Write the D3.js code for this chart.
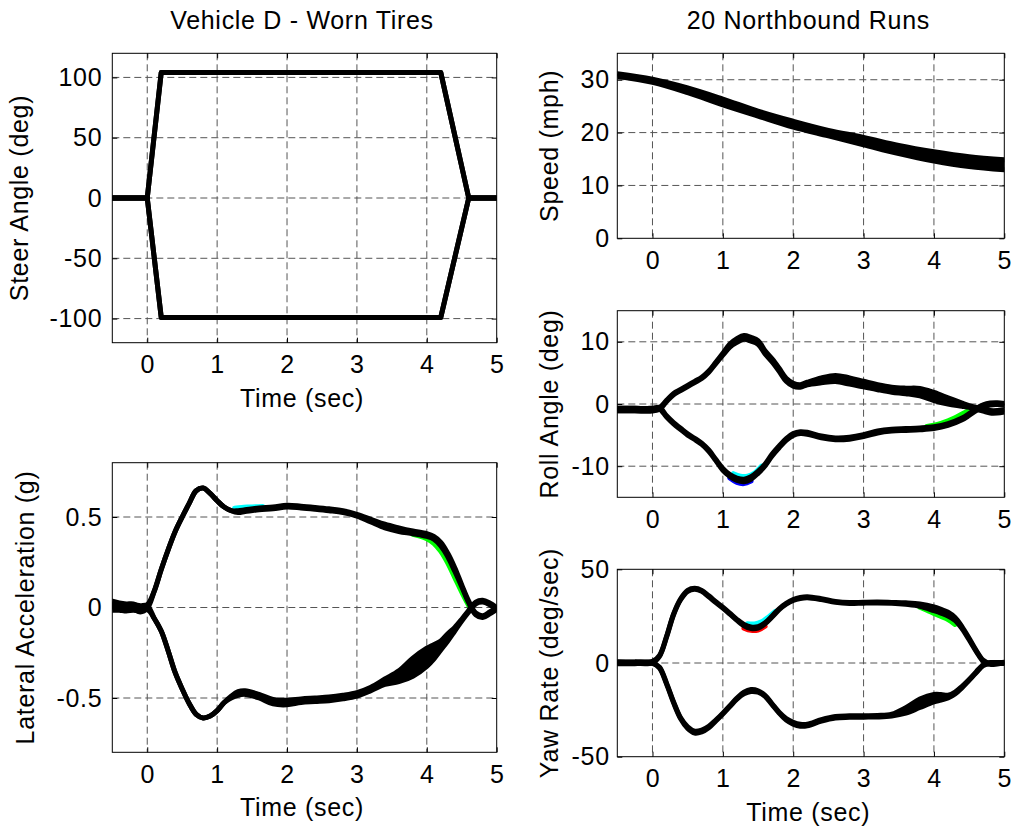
<!DOCTYPE html>
<html><head><meta charset="utf-8">
<script src="https://cdn.jsdelivr.net/npm/d3@7"></script>
<style>body{margin:0;background:#fff}svg{display:block}</style>
</head><body><svg id="c" width="1018" height="831"></svg>
<script>
// ---------------- DATA ----------------
const xTicks = [0, 1, 2, 3, 4, 5];

// Steer angle (deg)
const steerT = [-0.5, 0, 0.2, 4.2, 4.6, 5];
const steerLeft = [0, 0, 104, 104, 0, 0];
const steerRight = [0, 0, -99, -99, 0, 0];
const steerTicks = [-100, -50, 0, 50, 100];

// Speed (mph): centre of the bundle of 20 runs and its spread
const speedT = [-0.5, 0, 0.5, 1, 1.5, 2, 2.5, 3, 3.5, 4, 4.5, 5];
const speedMid = [30.9, 29.8, 28.0, 25.8, 23.6, 21.6, 19.9, 18.4, 16.8, 15.5, 14.5, 13.9];
const speedSpread = [0.45, 0.6, 0.9, 1.1, 0.95, 1.1, 1.05, 1.4, 1.55, 1.75, 1.85, 1.9];
const speedTicks = [0, 10, 20, 30];

// Lateral acceleration (g)
const latT = [-0.5,-0.4,-0.3,-0.2,-0.1,0,0.1,0.2,0.3,0.4,0.5,0.6,0.7,0.8,0.9,1.0,1.1,1.2,1.3,1.4,1.6,1.8,2.0,2.2,2.4,2.6,2.8,3.0,3.2,3.4,3.6,3.8,4.0,4.1,4.2,4.3,4.4,4.5,4.6,4.7,4.8,4.9,5.0];
const latLeft = [0.02,0.01,0.005,0.005,-0.01,0.005,0.09,0.21,0.32,0.42,0.50,0.575,0.645,0.66,0.63,0.59,0.555,0.535,0.53,0.535,0.545,0.55,0.56,0.555,0.548,0.54,0.53,0.51,0.48,0.45,0.43,0.415,0.40,0.385,0.35,0.29,0.21,0.12,0.03,-0.035,-0.05,-0.03,-0.005];
const latLeftSpread = [0.03,0.03,0.03,0.03,0.03,0.02,0,0,0,0,0,0,0,0,0,0,0,0,0.01,0.01,0.01,0.01,0.01,0.01,0.01,0.01,0.01,0.01,0.015,0.02,0.02,0.015,0.015,0.015,0.02,0.02,0.02,0.01,0.01,0.01,0.01,0.01,0.01];
const latRight = [0.0,0.0,-0.005,0.0,-0.005,0.0,-0.06,-0.13,-0.24,-0.36,-0.45,-0.53,-0.59,-0.61,-0.60,-0.57,-0.525,-0.495,-0.475,-0.47,-0.49,-0.52,-0.525,-0.515,-0.51,-0.505,-0.495,-0.48,-0.45,-0.41,-0.38,-0.33,-0.275,-0.245,-0.21,-0.165,-0.12,-0.07,-0.02,0.025,0.035,0.02,-0.005];
const latRightSpread = [0.03,0.03,0.03,0.03,0.03,0.02,0,0,0,0,0,0,0,0,0,0,0,0.01,0.02,0.02,0.02,0.025,0.025,0.02,0.02,0.02,0.02,0.02,0.02,0.03,0.06,0.10,0.10,0.08,0.05,0.04,0.02,0.01,0.01,0.01,0.01,0.01,0.01];
const latTicks = [-0.5, 0, 0.5];

// Roll angle (deg)
const rollT = [-0.5,-0.25,0,0.1,0.2,0.3,0.4,0.5,0.6,0.7,0.8,0.9,1.0,1.1,1.2,1.3,1.4,1.5,1.6,1.7,1.8,1.9,2.0,2.1,2.2,2.4,2.6,2.8,3.0,3.2,3.4,3.6,3.8,4.0,4.2,4.4,4.5,4.6,4.7,4.8,4.9,5.0];
const rollLeft = [-0.9,-0.9,-0.9,-0.7,0.5,1.6,2.25,2.9,3.55,4.2,5.2,6.6,8.0,9.4,10.2,10.7,10.4,9.9,8.3,7.0,5.5,3.9,3.1,2.9,3.3,3.8,4.1,3.7,3.2,2.7,2.3,2.1,1.9,1.2,0.5,-0.1,-0.4,-0.7,-1.0,-1.25,-1.25,-1.1];
const rollLeftSpread = [0.4,0.4,0.4,0.3,0.2,0.2,0.2,0.2,0.2,0.2,0.2,0.2,0.3,0.5,0.6,0.6,0.6,0.6,0.5,0.5,0.5,0.5,0.5,0.4,0.4,0.8,1.0,1.0,0.9,0.8,0.8,0.9,1.2,1.3,1.0,0.5,0.3,0.3,0.3,0.4,0.4,0.4];
const rollRight = [-0.9,-0.9,-0.9,-0.7,-2.0,-3.1,-4.0,-4.9,-5.6,-6.4,-7.5,-9.0,-10.5,-11.5,-12.1,-12.3,-11.9,-11.0,-9.8,-8.2,-6.9,-5.7,-4.9,-4.6,-4.7,-5.3,-5.6,-5.5,-5.1,-4.5,-4.2,-4.1,-4.0,-3.8,-3.3,-2.4,-1.7,-0.9,-0.3,0.0,0.05,-0.05];
const rollRightSpread = [0.4,0.4,0.4,0.3,0.2,0.2,0.2,0.2,0.2,0.2,0.2,0.2,0.3,0.3,0.4,0.4,0.4,0.3,0.3,0.3,0.3,0.3,0.3,0.3,0.3,0.3,0.3,0.3,0.3,0.3,0.3,0.3,0.3,0.3,0.3,0.3,0.3,0.3,0.3,0.3,0.3,0.3];
const rollTicks = [-10, 0, 10];

// Yaw rate (deg/sec)
const yawT = [-0.5,-0.25,0,0.1,0.2,0.3,0.4,0.5,0.6,0.7,0.8,0.9,1.0,1.1,1.2,1.3,1.4,1.5,1.6,1.7,1.8,1.9,2.0,2.1,2.2,2.4,2.6,2.8,3.0,3.2,3.4,3.6,3.8,4.0,4.1,4.2,4.3,4.4,4.5,4.6,4.7,4.8,4.9,5.0];
const yawLeft = [0.3,0.2,0.5,3.8,14,26,34,38.5,39.6,38.5,35.6,32.5,29.5,26.3,23,20.2,18.8,19.0,21.2,24.8,28.7,31.6,33.6,34.7,35.1,34.1,32.6,32.0,32.2,32.3,32.1,31.7,30.9,28.9,27.6,26.1,23.5,18.8,12.8,6.5,1.2,-0.5,-0.3,0.2];
const yawLeftSpread = [0.8,0.8,0.8,0.5,0.5,0.5,0.5,0.5,0.5,0.5,0.5,0.5,0.5,0.5,0.5,0.8,0.8,0.8,0.5,0.5,0.5,0.5,0.5,0.5,0.5,0.5,0.5,0.5,0.5,0.5,0.5,0.8,1.2,2.0,2.0,2.0,1.5,1.0,0.8,0.5,0.5,0.5,0.5,0.5];
const yawRight = [0,0,0,-2.5,-11,-21,-29.5,-34.5,-36.9,-36.3,-34.2,-30.7,-27,-23,-19,-16,-14.7,-15.2,-17.5,-22,-26.5,-30,-32.1,-33.2,-33.1,-30.6,-28.9,-28.6,-28.5,-28.4,-27.8,-25.3,-21.5,-18.8,-18.3,-17.9,-16,-12.8,-9,-5,-1.2,0,0,0];
const yawRightSpread = [0.8,0.8,0.5,0.5,0.5,0.5,0.5,0.8,1.0,1.0,0.8,0.5,0.5,0.5,0.5,0.8,1.0,0.8,0.5,0.5,0.5,0.8,1.0,1.0,0.8,0.8,0.8,0.8,0.8,0.8,1.0,3.0,4.5,4.0,3.0,1.5,1.0,0.8,0.5,0.5,0.5,0.5,0.5,0.5];
const yawTicks = [-50, 0, 50];

// a few individual coloured runs that peek out from under the black bundle
const latGreenT = [3.8,3.9,4.0,4.1,4.2,4.3,4.4,4.5,4.6];
const latGreenV = [0.405,0.395,0.38,0.355,0.31,0.245,0.165,0.085,0.01];
const latCyanT = [1.25,1.35,1.45,1.55,1.65];
const latCyanV = [0.548,0.553,0.555,0.556,0.558];
const rollCyanT = [1.15,1.25,1.35,1.45,1.55];
const rollCyanV = [-11.2,-11.6,-11.6,-11.1,-10.0];
const rollBlueT = [1.1,1.2,1.3,1.4];
const rollBlueV = [-11.9,-12.6,-12.8,-12.4];
const rollGreenT = [3.9,4.0,4.1,4.2,4.3,4.4,4.5];
const rollGreenV = [-3.6,-3.4,-3.1,-2.7,-2.2,-1.6,-1.0];
const yawCyanT = [1.35,1.45,1.55,1.65,1.75];
const yawCyanV = [21.0,20.8,22.0,24.6,27.6];
const yawRedT = [1.3,1.4,1.5,1.6];
const yawRedV = [18.6,17.4,17.6,19.6];
const yawGreenT = [3.8,3.9,4.0,4.1,4.2,4.3];
const yawGreenV = [29.8,28.2,26.4,24.8,23.2,20.6];

// ---------------- DRAWING ----------------
const svg = d3.select('#c');
const FONT = '"Liberation Sans", Arial, Helvetica, sans-serif';
const FS = 25;
const LS = '0.7px';
const LW = 5;

function panel(cfg) {
  const x = d3.scaleLinear().domain([-0.5, 5]).range([cfg.x0, cfg.x1]);
  const y = d3.scaleLinear().domain(cfg.ydom).range([cfg.y1, cfg.y0]);
  const g = svg.append('g');
  const clipId = 'clip' + cfg.id;
  svg.append('defs').append('clipPath').attr('id', clipId)
    .append('rect').attr('x', cfg.x0).attr('y', cfg.y0)
    .attr('width', cfg.x1 - cfg.x0).attr('height', cfg.y1 - cfg.y0);

  // grid
  const grid = g.append('g').attr('stroke', '#555').attr('stroke-width', 1)
    .attr('stroke-dasharray', '7,4').attr('fill', 'none');
  xTicks.filter(t => x(t) > cfg.x0 + 1 && x(t) < cfg.x1 - 1).forEach(t => {
    grid.append('line').attr('x1', x(t)).attr('x2', x(t)).attr('y1', cfg.y0).attr('y2', cfg.y1);
  });
  cfg.yticks.filter(v => y(v) > cfg.y0 + 1 && y(v) < cfg.y1 - 1).forEach(v => {
    grid.append('line').attr('x1', cfg.x0).attr('x2', cfg.x1).attr('y1', y(v)).attr('y2', y(v));
  });

  // data
  const dg = g.append('g').attr('clip-path', `url(#${clipId})`);
  const curve = cfg.linear ? d3.curveLinear : d3.curveCatmullRom.alpha(0.5);
  (cfg.colored || []).forEach(c => {
    const pts = c.t.map((t, i) => [t, c.v[i]]);
    dg.append('path').datum(pts)
      .attr('d', d3.line().x(d => x(d[0])).y(d => y(d[1])).curve(curve))
      .attr('fill', 'none').attr('stroke', c.color).attr('stroke-width', LW)
      .attr('stroke-linejoin', 'round').attr('stroke-linecap', 'round');
  });
  cfg.traces.forEach(tr => {
    const pts = tr.t.map((t, i) => ({t, hi: tr.v[i] + (tr.s ? tr.s[i] / 2 : 0), lo: tr.v[i] - (tr.s ? tr.s[i] / 2 : 0)}));
    if (tr.s) {
      dg.append('path').datum(pts)
        .attr('d', d3.area().x(d => x(d.t)).y0(d => y(d.lo)).y1(d => y(d.hi)).curve(curve))
        .attr('fill', '#000');
    }
    ['hi', 'lo'].forEach(k => {
      dg.append('path').datum(pts)
        .attr('d', d3.line().x(d => x(d.t)).y(d => y(d[k])).curve(curve))
        .attr('fill', 'none').attr('stroke', '#000').attr('stroke-width', LW)
        .attr('stroke-linejoin', 'round').attr('stroke-linecap', 'round');
    });
  });

  // axes (ticks inward on all four sides)
  const fmt = d => String(d);
  g.append('g').attr('transform', `translate(0,${cfg.y1})`)
    .call(d3.axisBottom(x).tickValues(xTicks).tickSizeInner(-5).tickSizeOuter(0).tickPadding(12.8).tickFormat(fmt));
  g.append('g').attr('transform', `translate(${cfg.x0},0)`)
    .call(d3.axisLeft(y).tickValues(cfg.yticks).tickSizeInner(-5).tickSizeOuter(0).tickPadding(cfg.gap).tickFormat(fmt));
  g.append('g').attr('transform', `translate(0,${cfg.y0})`)
    .call(d3.axisTop(x).tickValues(xTicks).tickSizeInner(-5).tickSizeOuter(0).tickFormat(''));
  g.append('g').attr('transform', `translate(${cfg.x1},0)`)
    .call(d3.axisRight(y).tickValues(cfg.yticks).tickSizeInner(-5).tickSizeOuter(0).tickFormat(''));
  g.selectAll('.domain').remove();
  g.selectAll('.tick line').attr('stroke', '#000');
  g.selectAll('.tick text').attr('font-family', FONT).attr('font-size', FS)
    .attr('letter-spacing', LS).attr('fill', '#000');

  g.append('rect').attr('x', cfg.x0).attr('y', cfg.y0)
    .attr('width', cfg.x1 - cfg.x0).attr('height', cfg.y1 - cfg.y0)
    .attr('fill', 'none').attr('stroke', '#000').attr('stroke-width', 1);

  const cx = (cfg.x0 + cfg.x1) / 2 - 2.5;
  g.append('text').attr('transform', `translate(${cfg.ylabelX},${(cfg.y0 + cfg.y1) / 2}) rotate(-90)`)
    .attr('text-anchor', 'middle').attr('font-family', FONT).attr('font-size', FS)
    .attr('letter-spacing', LS).text(cfg.ylabel);
  if (cfg.xlabel) {
    g.append('text').attr('x', cx).attr('y', cfg.y1 + 64)
      .attr('text-anchor', 'middle').attr('font-family', FONT).attr('font-size', FS)
      .attr('letter-spacing', LS).text(cfg.xlabel);
  }
  if (cfg.title) {
    g.append('text').attr('x', cx).attr('y', 29.3)
      .attr('text-anchor', 'middle').attr('font-family', FONT).attr('font-size', FS)
      .attr('letter-spacing', LS).text(cfg.title);
  }
}

panel({id: 'steer', x0: 112.3, x1: 496.7, y0: 53.3, y1: 342.7, ydom: [-120, 120], yticks: steerTicks,
  gap: 10, ylabel: 'Steer Angle (deg)', ylabelX: 27.5, xlabel: 'Time (sec)', title: 'Vehicle D - Worn Tires', linear: true,
  traces: [{t: steerT, v: steerLeft}, {t: steerT, v: steerRight}]});

panel({id: 'lat', x0: 112.3, x1: 496.7, y0: 462.7, y1: 752.3, ydom: [-0.8, 0.8], yticks: latTicks,
  gap: 10, ylabel: 'Lateral Acceleration (g)', ylabelX: 34, xlabel: 'Time (sec)',
  colored: [{t: latGreenT, v: latGreenV, color: '#00ff00'}, {t: latCyanT, v: latCyanV, color: '#00ffff'}],
  traces: [{t: latT, v: latLeft, s: latLeftSpread}, {t: latT, v: latRight, s: latRightSpread}]});

panel({id: 'speed', x0: 617.3, x1: 1004.3, y0: 53.3, y1: 238.3, ydom: [0, 35], yticks: speedTicks,
  gap: 7.5, ylabel: 'Speed (mph)', ylabelX: 558, title: '20 Northbound Runs',
  traces: [{t: speedT, v: speedMid, s: speedSpread}]});

panel({id: 'roll', x0: 617.3, x1: 1004.3, y0: 310.7, y1: 497.3, ydom: [-15, 15], yticks: rollTicks,
  gap: 7.5, ylabel: 'Roll Angle (deg)', ylabelX: 558,
  colored: [{t: rollCyanT, v: rollCyanV, color: '#00ffff'}, {t: rollBlueT, v: rollBlueV, color: '#0000ff'}, {t: rollGreenT, v: rollGreenV, color: '#00ff00'}],
  traces: [{t: rollT, v: rollLeft, s: rollLeftSpread}, {t: rollT, v: rollRight, s: rollRightSpread}]});

panel({id: 'yaw', x0: 617.3, x1: 1004.3, y0: 569.3, y1: 756.7, ydom: [-50, 50], yticks: yawTicks,
  gap: 7.5, ylabel: 'Yaw Rate (deg/sec)', ylabelX: 558, xlabel: 'Time (sec)',
  colored: [{t: yawCyanT, v: yawCyanV, color: '#00ffff'}, {t: yawRedT, v: yawRedV, color: '#ff0000'}, {t: yawGreenT, v: yawGreenV, color: '#00ff00'}],
  traces: [{t: yawT, v: yawLeft, s: yawLeftSpread}, {t: yawT, v: yawRight, s: yawRightSpread}]});
</script>
</body></html>
